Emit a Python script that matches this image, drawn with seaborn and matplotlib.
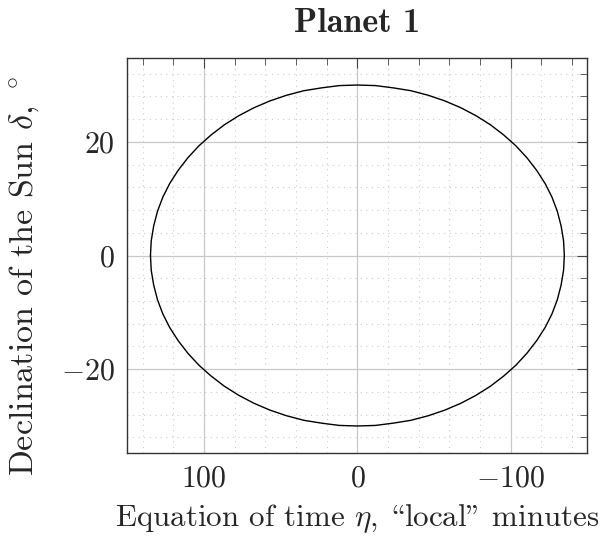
import numpy as np
import pandas as pd
import seaborn as sns
import matplotlib
matplotlib.use("Agg")
import matplotlib.pyplot as plt
from matplotlib.ticker import MultipleLocator

# points (equation of time vs declination), every 5 deg of orbit
eta_minutes = [135.0, 134.5, 132.9, 130.4, 126.9, 122.4, 116.9, 110.6, 103.4, 95.5,
               86.8, 77.4, 67.5, 57.1, 46.2, 34.9, 23.4, 11.8, 0.0,
               -11.8, -23.4, -34.9, -46.2, -57.1, -67.5, -77.4, -86.8, -95.5,
               -103.4, -110.6, -116.9, -122.4, -126.9, -130.4, -132.9, -134.5, -135.0,
               -134.5, -132.9, -130.4, -126.9, -122.4, -116.9, -110.6, -103.4, -95.5,
               -86.8, -77.4, -67.5, -57.1, -46.2, -34.9, -23.4, -11.8, 0.0,
               11.8, 23.4, 34.9, 46.2, 57.1, 67.5, 77.4, 86.8, 95.5,
               103.4, 110.6, 116.9, 122.4, 126.9, 130.4, 132.9, 134.5, 135.0]
delta_deg = [0.0, 2.6, 5.2, 7.8, 10.3, 12.7, 15.0, 17.2, 19.3, 21.2,
             23.0, 24.6, 26.0, 27.2, 28.2, 29.0, 29.5, 29.9, 30.0,
             29.9, 29.5, 29.0, 28.2, 27.2, 26.0, 24.6, 23.0, 21.2,
             19.3, 17.2, 15.0, 12.7, 10.3, 7.8, 5.2, 2.6, 0.0,
             -2.6, -5.2, -7.8, -10.3, -12.7, -15.0, -17.2, -19.3, -21.2,
             -23.0, -24.6, -26.0, -27.2, -28.2, -29.0, -29.5, -29.9, -30.0,
             -29.9, -29.5, -29.0, -28.2, -27.2, -26.0, -24.6, -23.0, -21.2,
             -19.3, -17.2, -15.0, -12.7, -10.3, -7.8, -5.2, -2.6, 0.0]

x_ticks = [100, 0, -100]
y_ticks = [-20, 0, 20]
title = "Planet 1"
# cmr10 (BaKoMa) keeps TeX's OT1 slots: '\' is the open and '"' the close double quote
xlabel = "Equation of time $\\eta$, \\local\" minutes"
ylabel = "Declination of the Sun $\\delta$, $^\\circ$"

sns.set_style("white")
plt.rcParams['font.family'] = ['cmr10', 'DejaVu Serif']
plt.rcParams['mathtext.fontset'] = 'cm'
plt.rcParams['axes.formatter.use_mathtext'] = True
plt.rcParams['axes.unicode_minus'] = True

df = pd.DataFrame({'eta': eta_minutes, 'delta': delta_deg})

fig = plt.figure(figsize=(6.03, 5.43), dpi=100)
ax = fig.add_axes([0.2114, 0.1663, 0.974 - 0.2114, 0.8926 - 0.1663])

sns.lineplot(data=df, x='eta', y='delta', sort=False, estimator=None,
             color='black', linewidth=1.0, ax=ax)
for ln in ax.lines:
    ln.set_solid_joinstyle('round')

ax.set_xlim(150, -150)
ax.set_ylim(-34.7, 34.7)
ax.set_xticks(x_ticks)
ax.set_yticks(y_ticks)
ax.xaxis.set_minor_locator(MultipleLocator(20))
ax.yaxis.set_minor_locator(MultipleLocator(4))

ax.grid(True, which='major', color='#c8c8c8', linewidth=0.9, linestyle='-')
ax.grid(True, which='minor', color='#cccccc', linewidth=0.8, linestyle=(0, (1, 4)))
ax.set_axisbelow(True)

ax.tick_params(which='both', direction='in', top=True, right=True,
               color='#444444', labelsize=21.5)
ax.tick_params(which='major', length=7, width=0.8, pad=9)
ax.tick_params(which='minor', length=5, width=0.6)
for s in ax.spines.values():
    s.set_color('#333333')
    s.set_linewidth(1.0)

ax.set_title(title, fontsize=24.5, family=['cmb10', 'DejaVu Serif'], pad=19)
ax.set_xlabel(xlabel, fontsize=22.3, labelpad=7)
ax.set_ylabel(ylabel, fontsize=24.5)
ax.yaxis.set_label_coords(-0.188, 0.448)

fig.savefig("out.png", dpi=100)
